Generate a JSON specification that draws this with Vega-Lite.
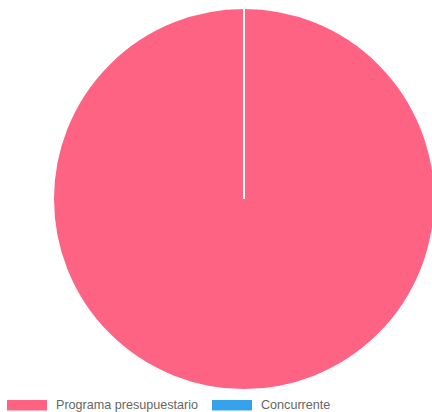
{
  "$schema": "https://vega.github.io/schema/vega-lite/v6.json",
  "width": 488,
  "height": 398,
  "autosize": "none",
  "padding": {"top": 0, "left": 0, "right": 0, "bottom": 14},
  "background": "white",
  "config": {"view": {"stroke": null}},
  "data": {"values": [
    {"categoria": "Programa presupuestario", "valor": 100},
    {"categoria": "Concurrente", "valor": 0}
  ]},
  "mark": {"type": "arc", "radius": 191, "stroke": "white", "strokeWidth": 2},
  "encoding": {
    "theta": {"field": "valor", "type": "quantitative", "stack": true},
    "order": {"field": "valor", "sort": "descending"},
    "color": {
      "field": "categoria",
      "type": "nominal",
      "scale": {"domain": ["Programa presupuestario", "Concurrente"], "range": ["#FF6384", "#36A2EB"]},
      "legend": {
        "title": null,
        "orient": "none",
        "legendX": 7,
        "legendY": 385,
        "direction": "horizontal",
        "symbolType": "M-1,-0.26H1V0.26H-1Z",
        "symbolSize": 1600,
        "symbolStrokeWidth": 0,
        "symbolOpacity": 1,
        "labelFont": "Liberation Sans",
        "labelFontSize": 12.6,
        "labelColor": "#666666",
        "labelOffset": 9,
        "labelBaseline": "middle",
        "columnPadding": 13,
        "padding": 0
      }
    }
  }
}
